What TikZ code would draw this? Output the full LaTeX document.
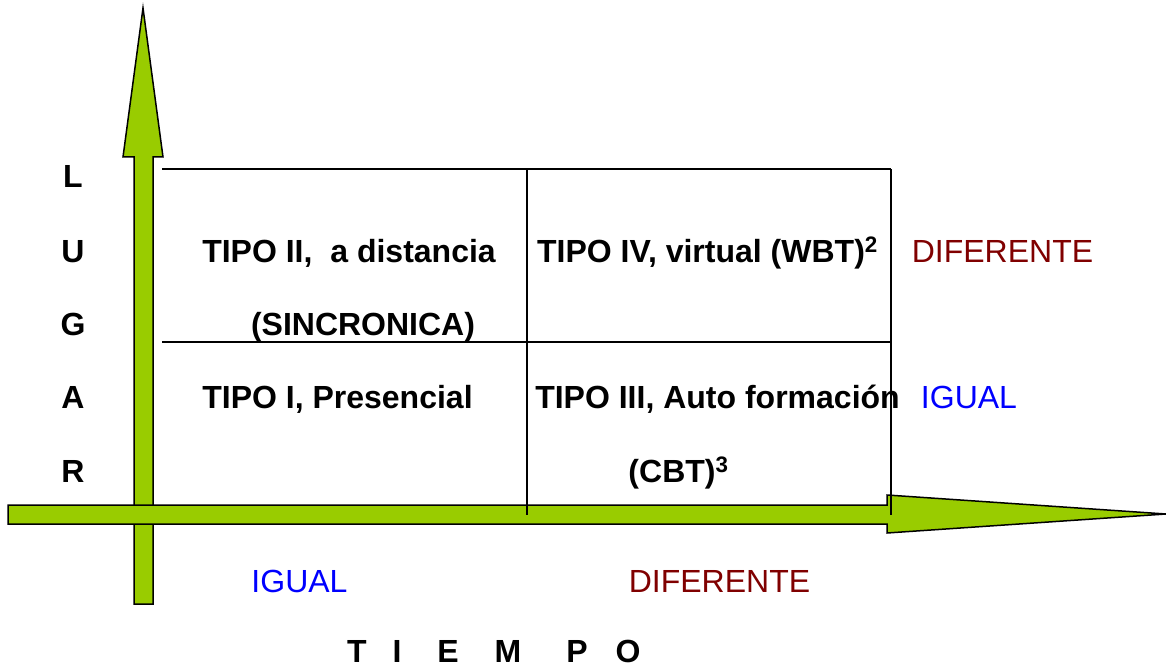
\documentclass[tikz,border=0pt]{standalone}
\usepackage{fontspec}
\setmainfont{Liberation Sans}
\definecolor{arrowgreen}{HTML}{99CC00}
\definecolor{darkred}{HTML}{800000}
\definecolor{textblue}{HTML}{0000FF}
\begin{document}
\begin{tikzpicture}[x=1pt,y=-1pt,
  bigarrow/.style={draw=black,line width=1.5pt,fill=arrowgreen,line join=miter},
  gridline/.style={draw=black,line width=1.3pt},
  lbl/.style={inner sep=0pt,anchor=base,font=\fontsize{32}{38}\selectfont\bfseries},
  lblr/.style={inner sep=0pt,anchor=base,font=\fontsize{32}{38}\selectfont}]
\useasboundingbox (0,0) rectangle (1166,668);
% vertical arrow
\draw[bigarrow] (134,604) -- (134,157) -- (123,157) -- (143,8) -- (163,157) -- (153,157) -- (153,604) -- cycle;
% horizontal arrow
\draw[bigarrow] (8,505) -- (887,505) -- (887,495) -- (1166,514) -- (887,533) -- (887,524) -- (8,524) -- cycle;
% grid
\coordinate (tl) at (162,169);
\coordinate (tm) at (527,169);
\coordinate (tr) at (891,169);
\coordinate (ml) at (162,342);
\coordinate (mr) at (891,342);
\coordinate (bm) at (527,515);
\coordinate (br) at (891,515);
\draw[gridline] (tl) -- (tr);
\draw[gridline] (ml) -- (mr);
\draw[gridline] (tm) -- (bm);
\draw[gridline] (tr) -- (br);
% LUGAR
\node[lbl] (l1) at (73,188) {L};
\node[lbl] (l2) at (73,262) {U};
\node[lbl] (l3) at (73,335) {G};
\node[lbl] (l4) at (73,408) {A};
\node[lbl] (l5) at (73,482) {R};
% cells
\node[lbl] (t2) at (349,262) {TIPO II,\ \ a distancia};
\node[lbl] (t2b) at (363,335) {(SINCRONICA)};
\node[lbl] (t1) at (337.5,408) {TIPO I, Presencial};
\node[lbl] (t4) at (707.5,262) {TIPO IV, virtual (WBT)\textsuperscript{2}};
\node[lbl] (t3) at (717.5,408) {TIPO III, Auto formación};
\node[lbl] (t3b) at (678.5,482) {(CBT)\textsuperscript{3}};
% side labels
\node[lblr,text=darkred] (dif1) at (1002.5,262) {DIFERENTE};
\node[lblr,text=textblue] (ig1) at (969,408) {IGUAL};
\node[lblr,text=textblue] (ig2) at (299.5,592) {IGUAL};
\node[lblr,text=darkred] (dif2) at (719.5,592) {DIFERENTE};
% TIEMPO
\node[lbl] (e1) at (357,662) {T};
\node[lbl] (e2) at (397,662) {I};
\node[lbl] (e3) at (448,662) {E};
\node[lbl] (e4) at (508,662) {M};
\node[lbl] (e5) at (577,662) {P};
\node[lbl] (e6) at (628,662) {O};
\end{tikzpicture}
\end{document}
